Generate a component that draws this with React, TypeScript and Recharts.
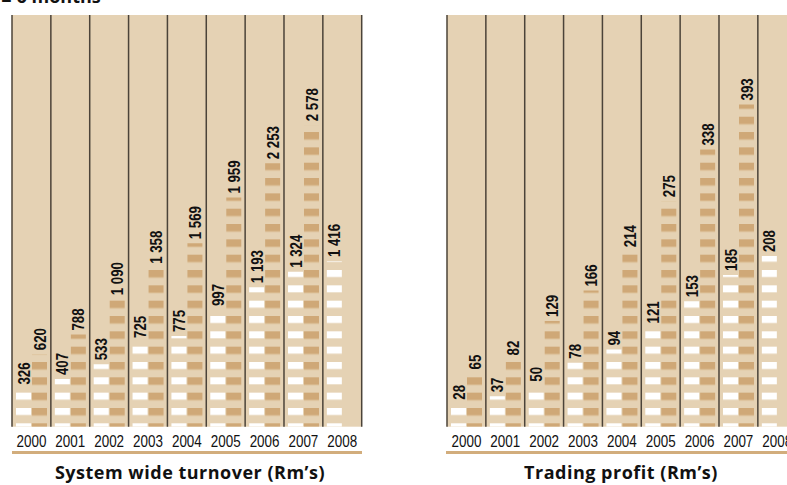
import React from "react";
import { Bar, BarChart, CartesianGrid, LabelList, XAxis, YAxis } from "recharts";

const years = ["2000", "2001", "2002", "2003", "2004", "2005", "2006", "2007", "2008"];
const turnoverHalf = [326, 407, 533, 725, 775, 997, 1193, 1324, 1416];
const turnoverFull = [620, 788, 1090, 1358, 1569, 1959, 2253, 2578, null];
const profitHalf = [28, 37, 50, 78, 94, 121, 153, 185, 208];
const profitFull = [65, 82, 129, 166, 214, 275, 338, 393, null];

const BEIGE = "#e5d2b4";
const TAN = "#cfa877";
const LINE = "#4b4339";
const FONT = "'Liberation Sans', Arial, sans-serif";

const turnoverData = years.map((year, i) => ({ year, half: turnoverHalf[i], full: turnoverFull[i] }));
const profitData = years.map((year, i) => ({ year, half: profitHalf[i], full: profitFull[i] }));

function fmt(v: number) {
  return v >= 1000 ? `${Math.floor(v / 1000)} ${String(v % 1000).padStart(3, "0")}` : String(v);
}

// numbers above the bars, turned upright and squeezed like a condensed face
function ValueLabel(props: any) {
  const { x, y, width, value } = props;
  if (value == null) return null;
  const cx = x + width / 2;
  const ty = y - 4;
  return (
    <text
      transform={`translate(${cx} ${ty}) rotate(-90) scale(0.78 1)`}
      x={0}
      y={0}
      textAnchor="start"
      dominantBaseline="central"
      fontFamily={FONT}
      fontWeight={700}
      fontSize={17}
      fill="#111"
    >
      {fmt(value)}
    </text>
  );
}

function YearTick(props: any) {
  const { x, y, payload } = props;
  return (
    <g transform={`translate(${x} ${y})`}>
      <text transform="scale(0.79 1)" x={0} y={12} textAnchor="middle" fontFamily={FONT} fontSize={17} fill="#111">
        {payload.value}
      </text>
    </g>
  );
}

function Patterns({ id }: { id: string }) {
  return (
    <defs>
      <pattern id={`white-${id}`} patternUnits="userSpaceOnUse" x={0} y={9.4} width={10} height={15.33}>
        <rect x={0} y={0} width={10} height={7} fill="#ffffff" />
      </pattern>
      <pattern id={`tan-${id}`} patternUnits="userSpaceOnUse" x={0} y={9.4} width={10} height={15.33}>
        <rect x={0} y={-1} width={10} height={9} fill="#dbbd93" />
        <rect x={0} y={0} width={10} height={7} fill={TAN} />
      </pattern>
    </defs>
  );
}

function Panel({ data, max, id }: { data: any[]; max: number; id: string }) {
  return (
    <BarChart
      width={385}
      height={485}
      data={data}
      margin={{ top: 15, left: 12, right: 23.3, bottom: 28.3 }}
      barCategoryGap={4}
      barGap={1}
    >
      <Patterns id={id} />
      <CartesianGrid
        horizontal={false}
        fill={BEIGE}
        fillOpacity={1}
        stroke={LINE}
        strokeWidth={1.5}
        verticalCoordinatesGenerator={({ offset }: any) =>
          years.map((_, i) => offset.left + (i * offset.width) / years.length).concat(offset.left + offset.width)
        }
      />
      <XAxis dataKey="year" axisLine={false} tickLine={false} height={30} interval={0} tick={YearTick} />
      <YAxis hide domain={[0, max]} allowDataOverflow />
      <Bar dataKey="half" fill={`url(#white-${id})`} isAnimationActive={false}>
        <LabelList dataKey="half" content={ValueLabel} />
      </Bar>
      <Bar dataKey="full" fill={`url(#tan-${id})`} isAnimationActive={false}>
        <LabelList dataKey="full" content={ValueLabel} />
      </Bar>
    </BarChart>
  );
}

const titleStyle: React.CSSProperties = {
  position: "absolute",
  top: 460,
  fontFamily: "'Open Sans', sans-serif",
  fontWeight: 700,
  fontSize: 18,
  letterSpacing: 0.5,
  color: "#111",
  textAlign: "center",
  whiteSpace: "nowrap",
};

export default function App() {
  return (
    <div
      style={{
        position: "absolute",
        left: 0,
        top: 0,
        width: 787,
        height: 485,
        overflow: "hidden",
        background: "#fff",
      }}
    >
      <div
        style={{
          position: "absolute",
          left: 1,
          top: -16,
          fontFamily: "'Open Sans', sans-serif",
          fontWeight: 700,
          fontSize: 18,
          color: "#111",
        }}
      >
        ■ 6 months
      </div>
      <div style={{ position: "absolute", left: 0, top: 0 }}>
        <Panel data={turnoverData} max={3520} id="t" />
      </div>
      <div style={{ position: "absolute", left: 434.7, top: 0 }}>
        <Panel data={profitData} max={502} id="p" />
      </div>
      <div style={{ position: "absolute", left: 12, top: 451, width: 350, height: 3, background: "#d2ad7c" }} />
      <div style={{ position: "absolute", left: 446, top: 451, width: 350, height: 3, background: "#d2ad7c" }} />
      <div style={{ ...titleStyle, left: 10, width: 360 }}>System wide turnover (Rm’s)</div>
      <div style={{ ...titleStyle, left: 446, width: 350 }}>Trading profit (Rm’s)</div>
    </div>
  );
}
